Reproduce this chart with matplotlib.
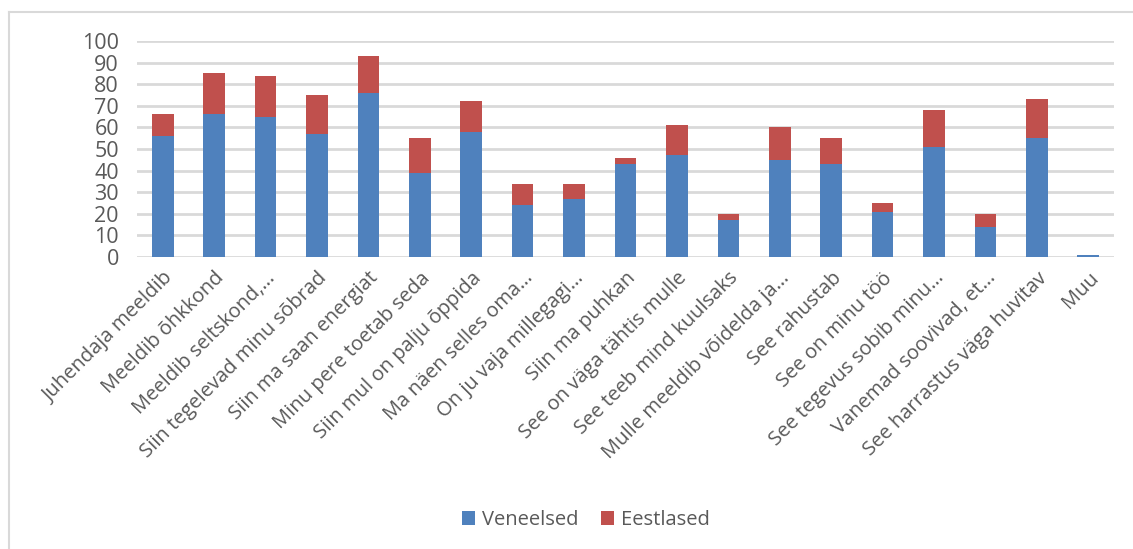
import matplotlib
matplotlib.use("Agg")
import matplotlib.pyplot as plt
import numpy as np

categories = [
    "Juhendaja meeldib", "Meeldib õhkkond", "Meeldib seltskond,…",
    "Siin tegelevad minu sõbrad", "Siin ma saan energiat",
    "Minu pere toetab seda", "Siin mul on palju õppida",
    "Ma näen selles oma…", "On ju vaja millegagi…", "Siin ma puhkan",
    "See on väga tähtis mulle", "See teeb mind kuulsaks",
    "Mulle meeldib võidelda ja…", "See rahustab", "See on minu töö",
    "See tegevus sobib minu…", "Vanemad soovivad, et…",
    "See harrastus väga huvitav", "Muu",
]
veneelsed = [56, 66, 65, 57, 76, 39, 58, 24, 27, 43, 47, 17, 45, 43, 21, 51, 14, 55, 1]
eestlased = [10, 19, 19, 18, 17, 16, 14, 10, 7, 3, 14, 3, 15, 12, 4, 17, 6, 18, 0]
y_ticks = [0, 10, 20, 30, 40, 50, 60, 70, 80, 90, 100]

BLUE = "#4F81BD"
RED = "#C0504D"
GRID = "#D9D9D9"
TEXT = "#595959"

plt.rcParams['font.family'] = ['Open Sans', 'DejaVu Sans']

fig = plt.figure(figsize=(11.33, 5.49), dpi=100)
ax = fig.add_axes([137 / 1133, 1 - 257 / 549, (1114 - 137) / 1133, (257 - 41) / 549])

x = np.arange(len(categories))
ax.bar(x, veneelsed, width=0.42, color=BLUE, label="Veneelsed", zorder=3)
ax.bar(x, eestlased, width=0.42, bottom=veneelsed, color=RED, label="Eestlased", zorder=3)

ax.set_xlim(-0.5, len(categories) - 0.5)
ax.set_ylim(0, 100)
ax.set_yticks(y_ticks)
ax.set_yticklabels([str(v) for v in y_ticks], fontsize=15.5, color=TEXT)
ax.yaxis.grid(True, color=GRID, linewidth=2, zorder=0)
ax.set_xticks(x)
ax.set_xticklabels(categories, rotation=45, ha="right", rotation_mode="anchor",
                   fontsize=14.5, color=TEXT)
ax.tick_params(axis='both', length=0)
ax.tick_params(axis='x', pad=8)
ax.tick_params(axis='y', pad=13)
for s in ax.spines.values():
    s.set_visible(False)

leg = fig.legend(loc="center", bbox_to_anchor=(586 / 1133, 1 - 520 / 549), ncol=2,
                 frameon=False, fontsize=14.5, handlelength=0.65, handleheight=0.65,
                 columnspacing=1.1, handletextpad=0.35)
for t in leg.get_texts():
    t.set_color(TEXT)

# outer chart frame (top and left edges visible)
fig.add_artist(plt.Line2D([9 / 1133, 1], [1 - 12 / 549, 1 - 12 / 549],
                          transform=fig.transFigure, color=GRID, linewidth=1.5))
fig.add_artist(plt.Line2D([9 / 1133, 9 / 1133], [0, 1 - 12 / 549],
                          transform=fig.transFigure, color=GRID, linewidth=1.5))

fig.savefig("out.png", dpi=100, facecolor="white")
